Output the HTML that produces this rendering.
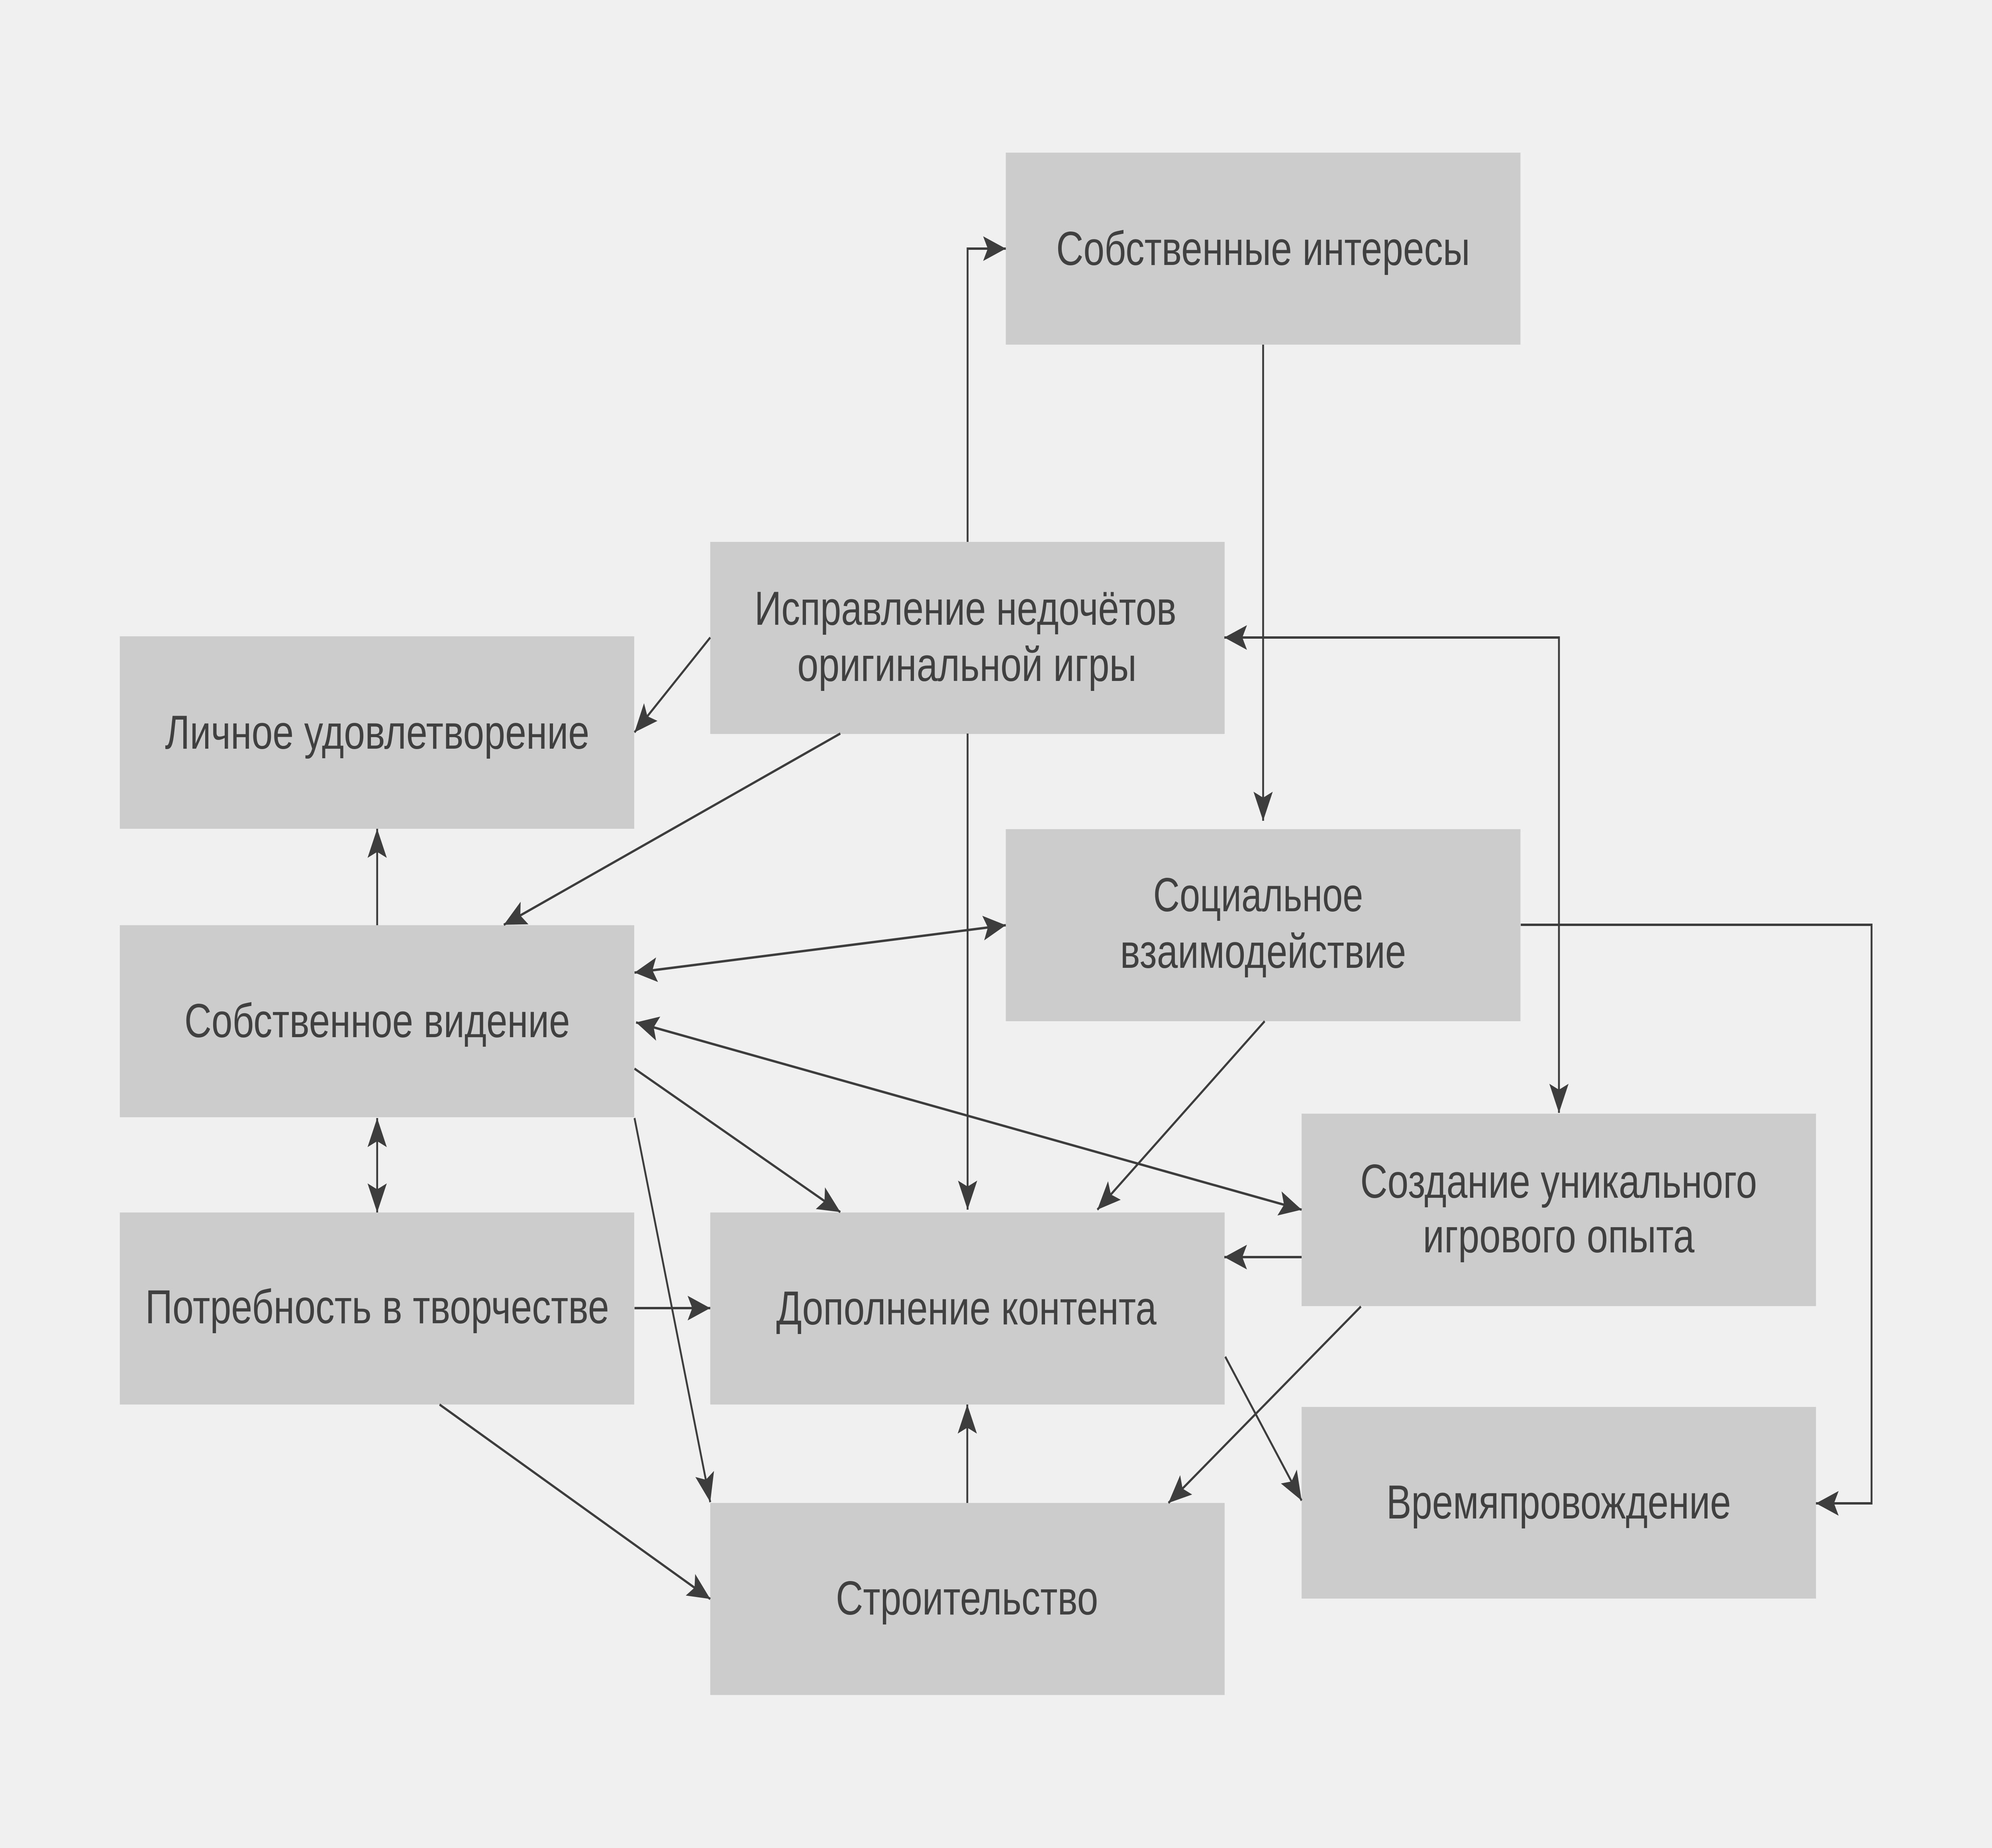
<!DOCTYPE html>
<html>
<head>
<meta charset="utf-8">
<style>
html,body{margin:0;padding:0;background:#f0f0f0;width:100%;height:100%;overflow:hidden;}
svg{display:block;position:absolute;left:0;top:0;width:100vw;height:100vh;}
text{font-family:"Liberation Sans","DejaVu Sans",sans-serif;font-size:120px;fill:#404040;}
</style>
</head>
<body>
<svg viewBox="0 0 6417 4638" preserveAspectRatio="none" xmlns="http://www.w3.org/2000/svg">
<defs>
<marker id="a" markerUnits="userSpaceOnUse" markerWidth="80" markerHeight="70" viewBox="-75 -35 80 70" refX="0" refY="0" orient="auto-start-reverse" overflow="visible">
<path d="M0,0 L-73,-31 L-58,0 L-73,31 Z" fill="#3d3d3d"/>
</marker>
</defs>
<rect x="0" y="0" width="6417" height="4638" fill="#f0f0f0"/>

<!-- boxes -->
<g fill="#cccccc">
<rect x="3240" y="383" width="1658" height="482"/>
<rect x="2288" y="1360" width="1657" height="482"/>
<rect x="386" y="1597" width="1657" height="483"/>
<rect x="3240" y="2081" width="1658" height="482"/>
<rect x="386" y="2322" width="1657" height="482"/>
<rect x="4193" y="2795" width="1657" height="483"/>
<rect x="386" y="3043" width="1657" height="482"/>
<rect x="2288" y="3043" width="1657" height="482"/>
<rect x="4193" y="3531" width="1657" height="481"/>
<rect x="2288" y="3772" width="1657" height="482"/>
</g>

<!-- connectors -->
<g fill="none" stroke="#3d3d3d" stroke-width="6">
<path d="M3117,1360 V624 H3240" marker-end="url(#a)"/>
<path d="M4069,865 V2060" marker-end="url(#a)"/>
<path d="M2288,1600 L2044,1838" marker-end="url(#a)"/>
<path d="M2707,1841 L1623,2321" marker-end="url(#a)"/>
<path d="M3117,1841 V3036" marker-end="url(#a)"/>
<path d="M3944,1600 H5022 V2793" marker-start="url(#a)" marker-end="url(#a)"/>
<path d="M1215,2322 V2080" marker-end="url(#a)"/>
<path d="M2044,2441 L3240,2322" marker-start="url(#a)" marker-end="url(#a)"/>
<path d="M2049,2566 L4193,3036" marker-start="url(#a)" marker-end="url(#a)"/>
<path d="M2044,2682 L2707,3042" marker-end="url(#a)"/>
<path d="M2044,2806 L2288,3770" marker-end="url(#a)"/>
<path d="M1215,2806 V3043" marker-start="url(#a)" marker-end="url(#a)"/>
<path d="M2044,3283 H2288" marker-end="url(#a)"/>
<path d="M1416,3525 L2288,4013" marker-end="url(#a)"/>
<path d="M4074,2563 L3535,3036" marker-end="url(#a)"/>
<path d="M4899,2321 H6029 V3773 H5850" marker-end="url(#a)"/>
<path d="M4193,3155 H3944" marker-end="url(#a)"/>
<path d="M4384,3279 L3764,3772" marker-end="url(#a)"/>
<path d="M3947,3405 L4193,3766" marker-end="url(#a)"/>
<path d="M3116,3772 V3525" marker-end="url(#a)"/>
</g>

<!-- labels -->
<g text-anchor="middle">
<text x="4069" y="665" textLength="1333" lengthAdjust="spacingAndGlyphs">Собственные интересы</text>
<text x="3110" y="1568" textLength="1359" lengthAdjust="spacingAndGlyphs">Исправление недочётов</text>
<text x="3115" y="1709" textLength="1093" lengthAdjust="spacingAndGlyphs">оригинальной игры</text>
<text x="1215" y="1879" textLength="1367" lengthAdjust="spacingAndGlyphs">Личное удовлетворение</text>
<text x="4053" y="2287" textLength="676" lengthAdjust="spacingAndGlyphs">Социальное</text>
<text x="4069" y="2429" textLength="921" lengthAdjust="spacingAndGlyphs">взаимодействие</text>
<text x="1215" y="2603" textLength="1242" lengthAdjust="spacingAndGlyphs">Собственное видение</text>
<text x="5021" y="3006" textLength="1278" lengthAdjust="spacingAndGlyphs">Создание уникального</text>
<text x="5021" y="3143" textLength="875" lengthAdjust="spacingAndGlyphs">игрового опыта</text>
<text x="1215" y="3321" textLength="1494" lengthAdjust="spacingAndGlyphs">Потребность в творчестве</text>
<text x="3113" y="3324" textLength="1225" lengthAdjust="spacingAndGlyphs">Дополнение контента</text>
<text x="5021" y="3811" textLength="1110" lengthAdjust="spacingAndGlyphs">Времяпровождение</text>
<text x="3115" y="4052" textLength="845" lengthAdjust="spacingAndGlyphs">Строительство</text>
</g>
</svg>
</body>
</html>
